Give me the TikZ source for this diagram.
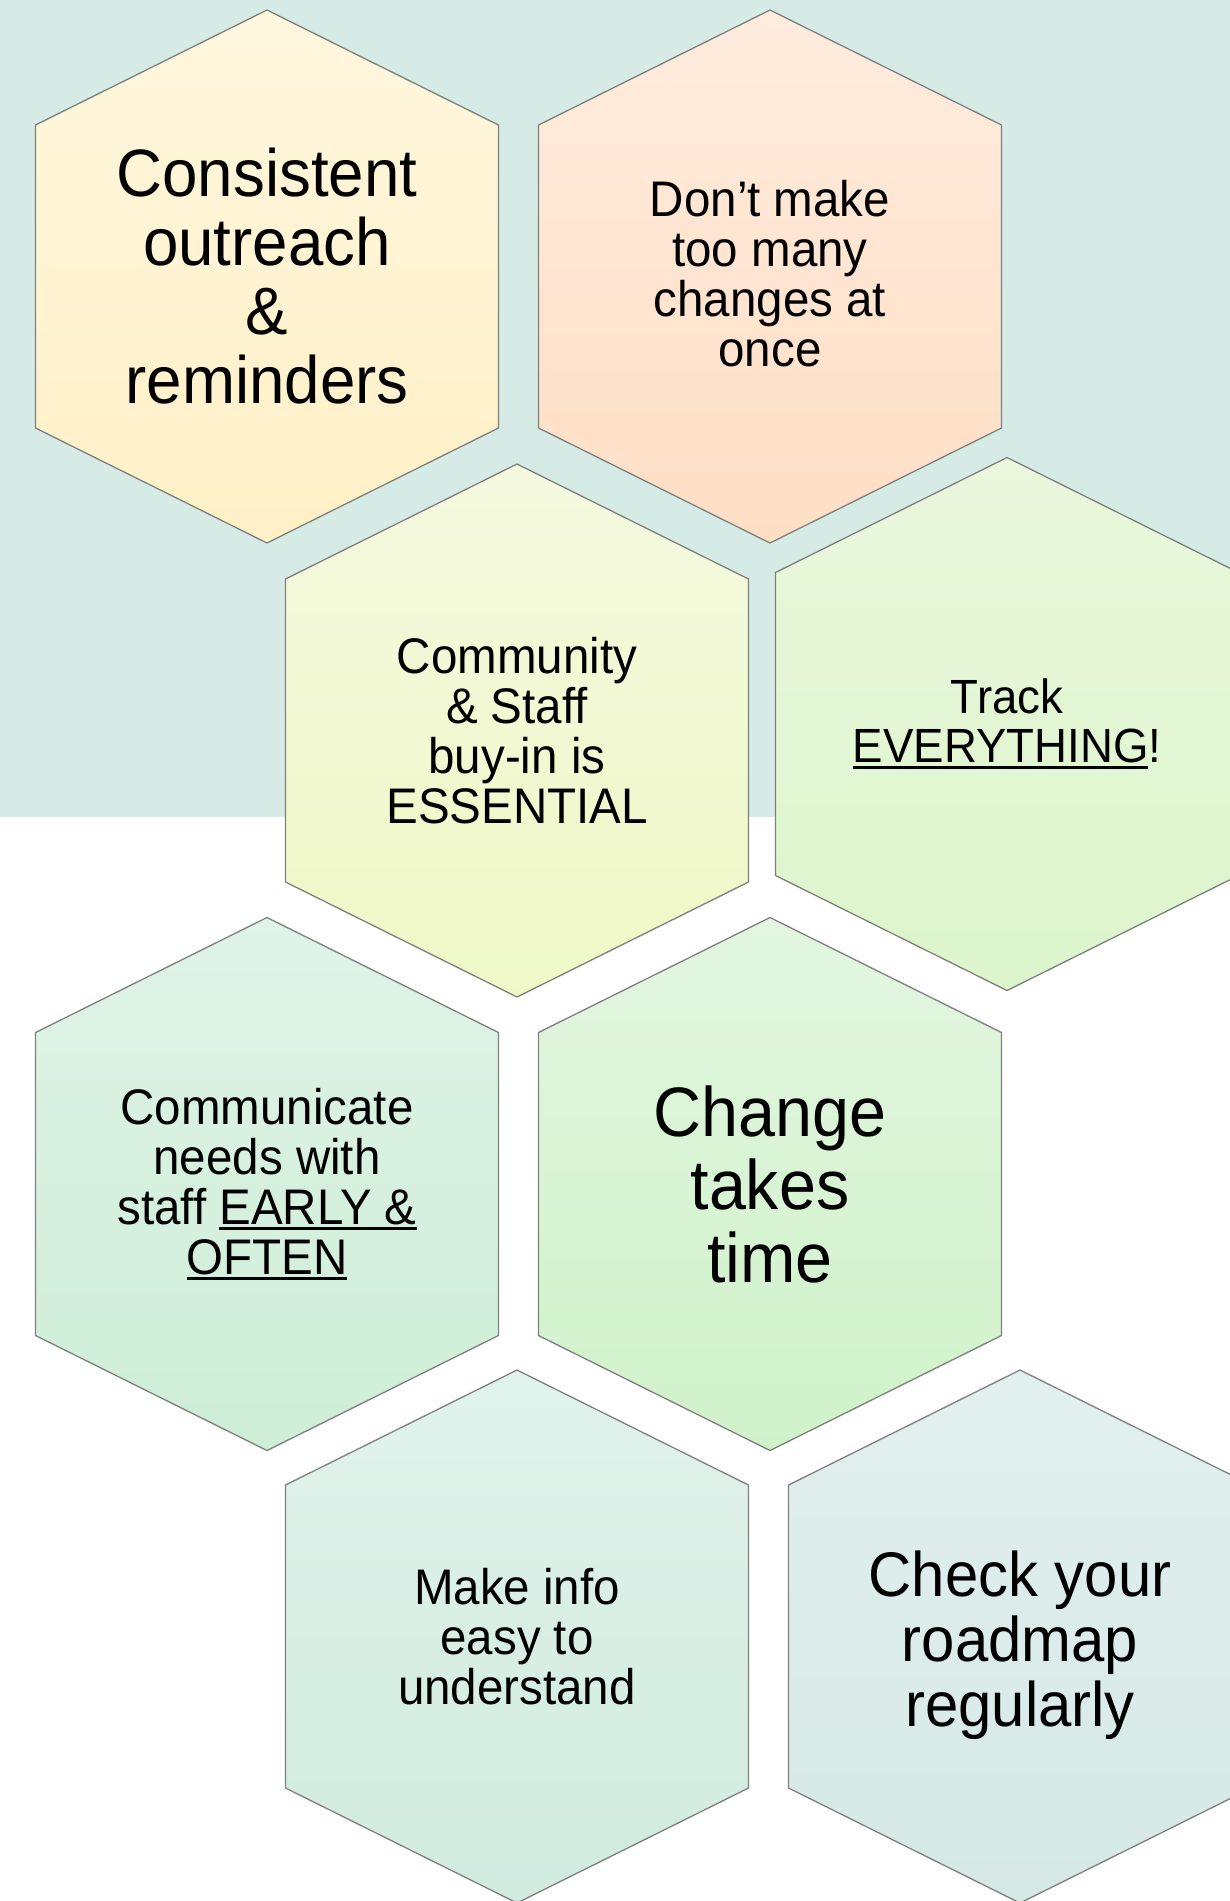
\documentclass[tikz,border=0pt]{standalone}
\usepackage{fontspec}
\newfontfamily\hexfont[FakeStretch=0.95]{Liberation Sans}
\newsavebox\ulbox
\newcommand\hul[1]{\sbox\ulbox{#1}\rlap{\rule[-6pt]{\wd\ulbox}{3pt}}\usebox\ulbox}
\definecolor{bgteal}{HTML}{D6EBE6}
\definecolor{hexline}{HTML}{7F7F7F}
\definecolor{aT}{HTML}{FFF7DE}\definecolor{aB}{HTML}{FFF0C6}
\definecolor{bT}{HTML}{FFECDE}\definecolor{bB}{HTML}{FFDEC4}
\definecolor{cT}{HTML}{F5F9E0}\definecolor{cB}{HTML}{EFF8C5}
\definecolor{dT}{HTML}{E9F7DC}\definecolor{dB}{HTML}{DCF5CB}
\definecolor{eT}{HTML}{DFF3E8}\definecolor{eB}{HTML}{CEEED6}
\definecolor{fT}{HTML}{E2F6E0}\definecolor{fB}{HTML}{D0F2C9}
\definecolor{gT}{HTML}{E0F2EC}\definecolor{gB}{HTML}{D1EBDF}
\definecolor{hT}{HTML}{E2EFEF}\definecolor{hB}{HTML}{D5E9E6}
\tikzset{
  hexshape/.style={draw=hexline, line width=1.3pt, line join=miter},
  txt/.style={align=center, inner sep=0pt, text=black},
  small/.style={font=\hexfont\fontsize{50}{50}\selectfont},
}
\newcommand\hexat[3]{%
  \shadedraw[hexshape, top color=#2, bottom color=#3, shift={(#1)}]
    (0,-266.5) -- (231.5,-151.5) -- (231.5,151.5) -- (0,266.5)
    -- (-231.5,151.5) -- (-231.5,-151.5) -- cycle;}
\begin{document}
\begin{tikzpicture}[x=1pt, y=-1pt]
\useasboundingbox (0,0) rectangle (1230,1901);
\clip (0,0) rectangle (1230,1901);
\fill[white] (0,0) rectangle (1230,1901);
\fill[bgteal] (0,0) rectangle (1230,817);
\coordinate (c1) at (267,276.5);
\coordinate (c2) at (770,276.5);
\coordinate (c3) at (517,730.5);
\coordinate (c4) at (1007,724);
\coordinate (c5) at (267,1184);
\coordinate (c6) at (770,1184);
\coordinate (c7) at (517,1636.5);
\coordinate (c8) at (1020,1636.5);
\hexat{c1}{aT}{aB}
\hexat{c2}{bT}{bB}
\hexat{c3}{cT}{cB}
\hexat{c4}{dT}{dB}
\hexat{c5}{eT}{eB}
\hexat{c6}{fT}{fB}
\hexat{c7}{gT}{gB}
\hexat{c8}{hT}{hB}
\node[txt, font=\hexfont\fontsize{67}{69}\selectfont] (t1) at (c1) {Consistent\\outreach\\\&\\reminders};
\node[txt, small] (t2) at ([yshift=3pt]c2) {Don’t make\\too many\\changes at\\once};
\node[txt, small] (t3) at (c3) {Community\\\& Staff\\buy-in is\\ESSENTIAL};
\node[txt, font=\hexfont\fontsize{48}{49}\selectfont] (t4) at (c4) {Track\\\hul{EVERYTHING}!};
\node[txt, small] (t5) at (c5) {Communicate\\needs with\\staff \hul{EARLY \&}\\\hul{OFTEN}};
\node[txt, font=\hexfont\fontsize{70}{73}\selectfont] (t6) at (c6) {Change\\takes\\time};
\node[txt, small] (t7) at (c7) {Make info\\easy to\\understand};
\node[txt, font=\hexfont\fontsize{63}{65}\selectfont] (t8) at ([yshift=-9pt]c8) {Check your\\roadmap\\regularly};
\end{tikzpicture}
\end{document}
